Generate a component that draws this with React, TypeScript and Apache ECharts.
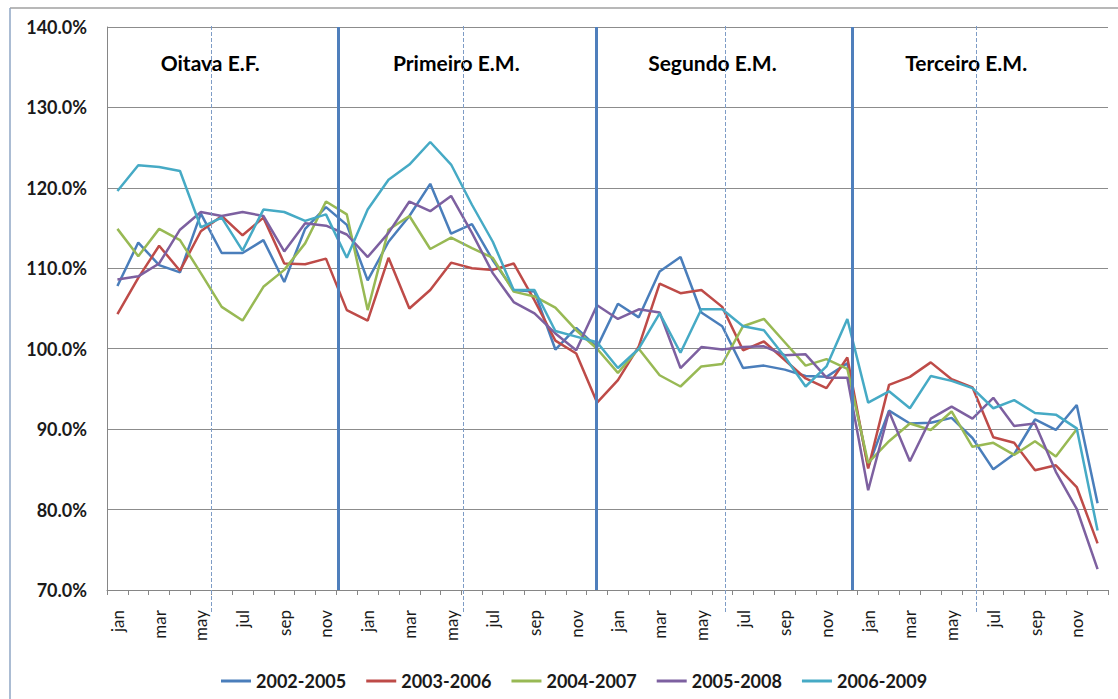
import React, { useEffect, useRef } from "react";
import * as echarts from "echarts";

const monthNames = ["jan", "feb", "mar", "apr", "may", "jun", "jul", "aug", "sep", "oct", "nov", "dec"];
const categories = [...monthNames, ...monthNames, ...monthNames, ...monthNames];

const seriesNames = ["2002-2005", "2003-2006", "2004-2007", "2005-2008", "2006-2009"];
const seriesColors = ["#4A7EBB", "#BE4B48", "#98B954", "#7D60A0", "#46AAC5"];

const s2002 = [
  107.8, 113.2, 110.4, 109.5, 116.8, 111.9, 111.9, 113.5, 108.3, 114.9, 117.6, 115.4,
  108.5, 113.3, 116.5, 120.5, 114.3, 115.5, 111.0, 107.3, 107.1, 99.9, 102.6, 100.2,
  105.6, 103.9, 109.6, 111.4, 104.5, 102.8, 97.6, 97.9, 97.4, 96.6, 96.5, 98.2,
  85.3, 92.3, 90.7, 90.8, 91.4, 88.9, 85.0, 86.9, 91.2, 89.9, 93.0, 80.8,
];
const s2003 = [
  104.3, 108.8, 112.8, 109.7, 114.6, 116.5, 114.1, 116.3, 110.6, 110.5, 111.2, 104.8,
  103.5, 111.3, 105.0, 107.3, 110.7, 110.0, 109.8, 110.6, 106.0, 101.0, 99.4, 93.3,
  96.1, 100.3, 108.1, 106.9, 107.3, 105.2, 99.8, 100.9, 98.6, 96.3, 95.1, 98.9,
  85.1, 95.5, 96.5, 98.3, 96.2, 95.2, 89.0, 88.3, 84.9, 85.5, 82.8, 75.8,
];
const s2004 = [
  114.9, 111.5, 114.9, 113.5, 109.4, 105.2, 103.5, 107.7, 109.8, 113.1, 118.3, 116.7,
  104.8, 114.8, 116.5, 112.4, 113.8, 112.5, 111.3, 107.1, 106.5, 105.1, 102.3, 100.0,
  97.0, 100.0, 96.7, 95.3, 97.8, 98.1, 102.8, 103.7, 100.8, 97.9, 98.7, 97.5,
  85.8, 88.5, 90.7, 89.9, 92.2, 87.8, 88.3, 86.8, 88.5, 86.6, 90.0, null,
];
const s2005 = [
  108.6, 109.0, 110.6, 114.8, 117.0, 116.5, 117.0, 116.5, 112.1, 115.6, 115.3, 114.2,
  111.4, 114.4, 118.3, 117.1, 119.0, 114.4, 109.4, 105.8, 104.4, 101.9, 99.8, 105.4,
  103.7, 104.9, 104.5, 97.6, 100.2, 99.9, 100.2, 100.3, 99.2, 99.3, 96.4, 96.4,
  82.4, 92.2, 86.0, 91.3, 92.8, 91.3, 93.9, 90.4, 90.7, 84.7, 80.1, 72.6,
];
const s2006 = [
  119.6, 122.8, 122.6, 122.1, 115.1, 116.3, 112.2, 117.3, 117.0, 115.9, 116.7, 111.3,
  117.3, 121.0, 122.9, 125.7, 122.9, 117.9, 113.3, 107.3, 107.3, 102.2, 101.5, 100.8,
  97.6, 100.0, 104.4, 99.5, 104.9, 104.9, 102.8, 102.3, 99.0, 95.3, 97.8, 103.7,
  93.3, 94.7, 92.6, 96.6, 96.0, 95.1, 92.6, 93.6, 92.0, 91.8, 90.1, 77.4,
];
const seriesValues = [s2002, s2003, s2004, s2005, s2006];

const segmentTitles = ["Oitava E.F.", "Primeiro E.M.", "Segundo E.M.", "Terceiro E.M."];
// separators, in category units along the axis (0..48)
const yearBreaks = [11.07, 23.45, 35.73];
const midYearBreaks = [5.02, 17.06, 29.64, 41.67];
const titleCenters = [4.95, 16.75, 29.03, 41.2];

const FONT = "Lato, 'Open Sans', sans-serif";

const App = () => {
  const chartRef = useRef<HTMLDivElement>(null);

  useEffect(() => {
    document.body.style.margin = "0";
    const myChart = echarts.init(chartRef.current!, null, { renderer: "svg" });

    const gridLeft = 107;
    const gridRight = 10;
    const plotWidth = 1118 - gridLeft - gridRight;

    const option = {
      animation: false,
      textStyle: { fontFamily: FONT },
      grid: [
        { left: gridLeft, right: gridRight, top: 27, bottom: 109 },
        // taller helper grid for the dashed mid-year lines, which run past the axis
        { left: gridLeft, right: gridRight, top: 25, bottom: 87 },
      ],
      legend: {
        data: seriesNames,
        left: 216,
        top: 667,
        icon: "rect",
        itemWidth: 30,
        itemHeight: 3,
        itemGap: 20,
        textStyle: { fontSize: 18, fontWeight: "bold", color: "#1a1a1a", fontFamily: FONT },
      },
      xAxis: [
        {
          type: "category",
          data: categories,
          boundaryGap: true,
          axisLine: { lineStyle: { color: "#868686" } },
          axisTick: { show: true, interval: 0, length: 5, lineStyle: { color: "#868686" } },
          axisLabel: { interval: 1, rotate: 90, fontSize: 17, color: "#1a1a1a", margin: 20, fontFamily: FONT },
          splitLine: { show: false },
        },
        { type: "value", min: 0, max: 48, show: false, splitLine: { show: false } },
        { type: "value", gridIndex: 1, min: 0, max: 48, show: false, splitLine: { show: false } },
      ],
      yAxis: [
        {
          type: "value",
          min: 70,
          max: 140,
          interval: 10,
          axisLine: { show: true, lineStyle: { color: "#868686" } },
          axisTick: { show: false },
          axisLabel: {
            formatter: (v: number) => v.toFixed(1) + "%",
            fontSize: 18,
            fontWeight: "bold",
            color: "#1a1a1a",
            margin: 20,
            fontFamily: FONT,
          },
          splitLine: { lineStyle: { color: "#8c8c8c", width: 1 } },
        },
        { type: "value", gridIndex: 1, min: 0, max: 1, show: false, splitLine: { show: false } },
      ],
      graphic: [
        { type: "line", shape: { x1: 10, y1: 8, x2: 1118, y2: 8 }, style: { stroke: "#a0a0a0", lineWidth: 1.5 } },
        { type: "line", shape: { x1: 10, y1: 8, x2: 10, y2: 699 }, style: { stroke: "#8fa6c4", lineWidth: 1.5 } },
        ...segmentTitles.map((t, i) => ({
          type: "text",
          x: gridLeft + (titleCenters[i] / 48) * plotWidth,
          y: 62,
          style: {
            text: t,
            font: `bold 21px ${FONT}`,
            fill: "#000",
            textAlign: "center",
            textVerticalAlign: "middle",
            align: "center",
            verticalAlign: "middle",
          },
        })),
      ],
      series: [
        ...seriesNames.map((name, i) => ({
          name,
          type: "line",
          data: seriesValues[i],
          symbol: "none",
          color: seriesColors[i],
          lineStyle: { width: 2.5, color: seriesColors[i] },
          connectNulls: false,
        })),
        {
          type: "line",
          xAxisIndex: 1,
          yAxisIndex: 0,
          data: [],
          silent: true,
          markLine: {
            silent: true,
            symbol: ["none", "none"],
            label: { show: false },
            animation: false,
            data: yearBreaks.map((x) => [
              { coord: [x, 70], lineStyle: { color: "#4F7FBC", width: 3, type: "solid" } },
              { coord: [x, 140] },
            ]),
          },
        },
        {
          type: "line",
          xAxisIndex: 2,
          yAxisIndex: 1,
          data: [],
          silent: true,
          markLine: {
            silent: true,
            symbol: ["none", "none"],
            label: { show: false },
            animation: false,
            data: midYearBreaks.map((x) => [
              { coord: [x, 0], lineStyle: { color: "#7E9CC6", width: 1, type: "dashed" } },
              { coord: [x, 1] },
            ]),
          },
        },
      ],
    };

    myChart.setOption(option as any);
    return () => {
      myChart.dispose();
    };
  }, []);

  return <div ref={chartRef} style={{ width: "1118px", height: "699px" }}></div>;
};

export default App;
